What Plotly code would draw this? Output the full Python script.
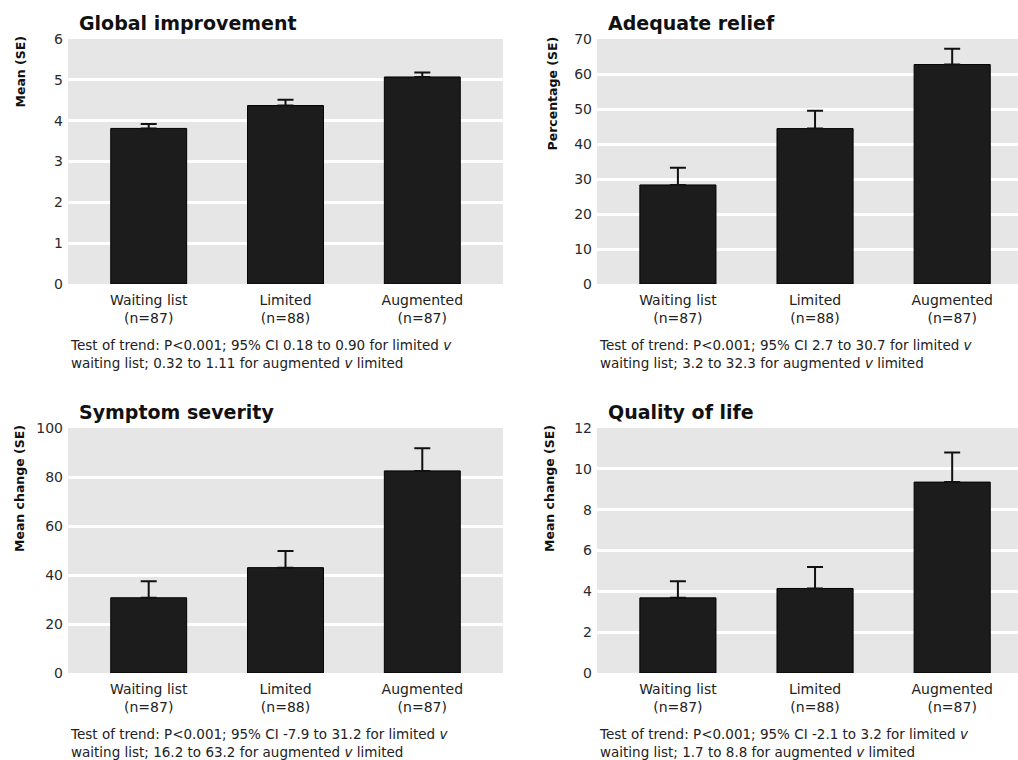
import plotly.graph_objects as go

# Group labels shown under every panel
groups = ["Waiting list<br>(n=87)", "Limited<br>(n=88)", "Augmented<br>(n=87)"]

# Global improvement: mean and SE
global_mean = [3.81, 4.37, 5.07]
global_se = [0.11, 0.14, 0.11]

# Adequate relief: percentage and SE
relief_pct = [28.3, 44.4, 62.7]
relief_se = [4.9, 5.1, 4.5]

# Symptom severity: mean change and SE
severity_mean = [30.7, 43.0, 82.5]
severity_se = [6.8, 6.8, 9.2]

# Quality of life: mean change and SE
qol_mean = [3.68, 4.14, 9.35]
qol_se = [0.82, 1.05, 1.45]

panels = [
    dict(title="Global improvement", ytitle="Mean (SE)", y=global_mean, se=global_se,
         ymax=6, dtick=1,
         caption="Test of trend: P&lt;0.001; 95% CI 0.18 to 0.90 for limited <i>v</i><br>"
                 "waiting list; 0.32 to 1.11 for augmented <i>v</i> limited"),
    dict(title="Adequate relief", ytitle="Percentage (SE)", y=relief_pct, se=relief_se,
         ymax=70, dtick=10,
         caption="Test of trend: P&lt;0.001; 95% CI 2.7 to 30.7 for limited <i>v</i><br>"
                 "waiting list; 3.2 to 32.3 for augmented <i>v</i> limited"),
    dict(title="Symptom severity", ytitle="Mean change (SE)", y=severity_mean, se=severity_se,
         ymax=100, dtick=20,
         caption="Test of trend: P&lt;0.001; 95% CI -7.9 to 31.2 for limited <i>v</i><br>"
                 "waiting list; 16.2 to 63.2 for augmented <i>v</i> limited"),
    dict(title="Quality of life", ytitle="Mean change (SE)", y=qol_mean, se=qol_se,
         ymax=12, dtick=2,
         caption="Test of trend: P&lt;0.001; 95% CI -2.1 to 3.2 for limited <i>v</i><br>"
                 "waiting list; 1.7 to 8.8 for augmented <i>v</i> limited"),
]

W, H = 1018, 760
BODY = "DejaVu Sans"
TXT = "#222222"

# Pixel layout of each panel: plot box left/right/top/bottom, y-title x, title x
boxes = [
    dict(l=68, r=503, t=39, b=284, xr=2.59, ytx=20, tx=77),
    dict(l=597, r=1018, t=39, b=284, xr=2.48, ytx=552, tx=606),
    dict(l=68, r=503, t=428, b=673, xr=2.59, ytx=20, tx=77),
    dict(l=597, r=1018, t=428, b=673, xr=2.48, ytx=550, tx=606),
]

fig = go.Figure()
annotations = []
layout_axes = {}

for i, (p, b) in enumerate(zip(panels, boxes), start=1):
    xa = "x" if i == 1 else f"x{i}"
    ya = "y" if i == 1 else f"y{i}"
    fig.add_trace(go.Bar(
        x=[0, 1, 2], y=p["y"], xaxis=xa, yaxis=ya, width=0.555,
        marker=dict(color="#1c1c1c", line=dict(color="#000000", width=1)),
        error_y=dict(type="data", symmetric=False, array=p["se"],
                     arrayminus=[0, 0, 0], color="#111111", thickness=2, width=8),
        showlegend=False, hoverinfo="skip",
    ))
    key = "" if i == 1 else str(i)
    layout_axes[f"xaxis{key}"] = dict(
        domain=[b["l"] / W, min(b["r"] / W, 1.0)], anchor=ya, automargin=False,
        range=[-0.59, b["xr"]], tickmode="array", tickvals=[0, 1, 2], ticktext=groups,
        showgrid=False, zeroline=False, showline=False, ticks="", ticklabelstandoff=6,
        tickfont=dict(family=BODY, size=14, color=TXT), fixedrange=True,
    )
    layout_axes[f"yaxis{key}"] = dict(
        domain=[1 - b["b"] / H, 1 - b["t"] / H], anchor=xa, automargin=False,
        range=[0, p["ymax"]], dtick=p["dtick"], tick0=0,
        showgrid=True, gridcolor="#ffffff", gridwidth=2.5, zeroline=False,
        showline=False, ticks="", ticklabelstandoff=4,
        tickfont=dict(family=BODY, size=14, color="#2a2a2a"), fixedrange=True,
    )
    # grey plotting field
    fig.add_shape(type="rect", xref="paper", yref="paper", layer="below",
                  x0=b["l"] / W, x1=min(b["r"] / W, 1.0),
                  y0=1 - b["b"] / H, y1=1 - b["t"] / H,
                  fillcolor="#e6e6e6", line=dict(width=0))
    # panel title
    annotations.append(dict(
        text=p["title"], xref="paper", yref="paper", x=b["tx"] / W, y=1 - (b["t"] - 16) / H,
        xanchor="left", yanchor="middle", showarrow=False,
        font=dict(family=BODY, size=19, color="#111111", weight="bold"),
    ))
    # y-axis title, sitting near the top of the axis
    ylen = {"Mean (SE)": 73, "Percentage (SE)": 117, "Mean change (SE)": 130}[p["ytitle"]]
    annotations.append(dict(
        text=p["ytitle"], xref="paper", yref="paper", x=b["ytx"] / W,
        y=1 - (b["t"] - 4 + ylen / 2) / H, xanchor="center", yanchor="middle",
        textangle=-90, showarrow=False,
        font=dict(family=BODY, size=12.5, color="#111111", weight="bold"),
    ))
    # caption under the panel
    annotations.append(dict(
        text=p["caption"], xref="paper", yref="paper", x=b["l"] / W,
        y=1 - (b["b"] + 70) / H, xanchor="left", yanchor="middle", align="left",
        showarrow=False, font=dict(family=BODY, size=13.5, color=TXT),
    ))

fig.update_layout(
    width=W, height=H, margin=dict(l=0, r=0, t=0, b=0, autoexpand=False),
    paper_bgcolor="#ffffff", plot_bgcolor="rgba(0,0,0,0)",
    annotations=annotations, **layout_axes,
)

fig.write_html("out.html", config={"displayModeBar": False})
